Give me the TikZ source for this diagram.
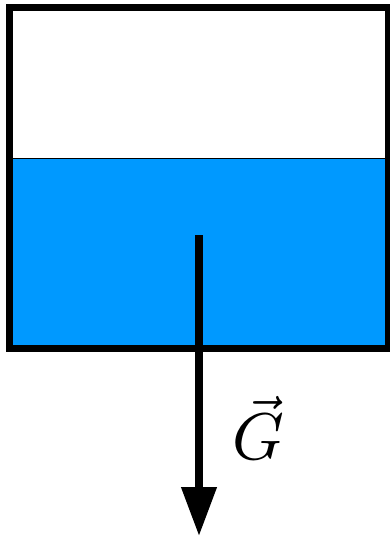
\documentclass[tikz,border=0pt]{standalone}
\usepackage{graphicx}
\usetikzlibrary{arrows.meta}
\definecolor{water}{HTML}{0099FF}
\begin{document}
\begin{tikzpicture}[x=1pt,y=-1pt,
  wall/.style={line width=7pt, draw=black},
  force/.style={line width=7.5pt, -{Triangle[width=34pt,length=49pt]}}]
\useasboundingbox (0,0) rectangle (389,537);
% water
\fill[water] (9.5,158.5) rectangle (388,348);
\draw[line width=1pt] (9.5,158.5) -- (388,158.5);
% container
\draw[wall, line join=miter] (9.5,8) rectangle (388.5,348);
% force
\coordinate (start) at (199,235);
\coordinate (tip) at (199,536);
\draw[force] (start) -- (tip);
\node[inner sep=0pt] (label) at (258,428) {\scalebox{6.6}{$\vec{G}$}};
\end{tikzpicture}
\end{document}
